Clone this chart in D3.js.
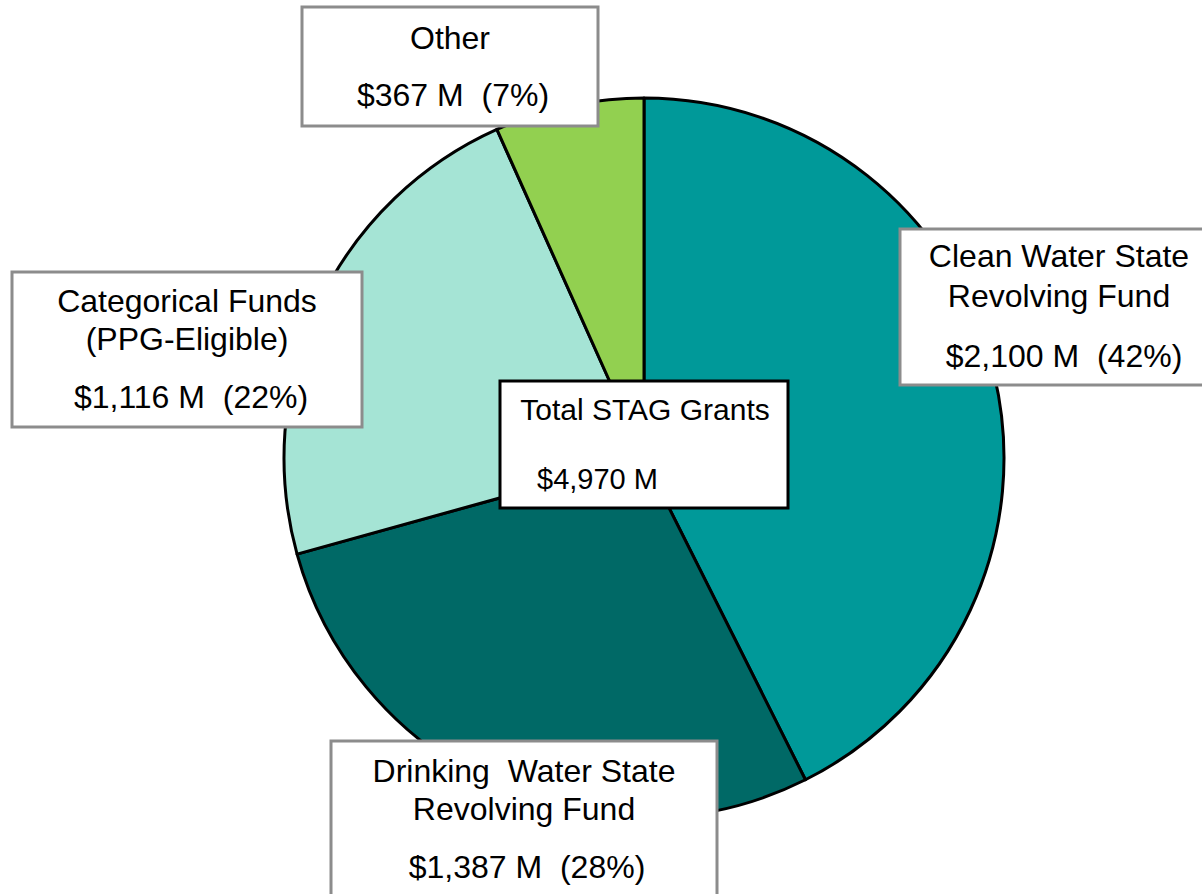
<!DOCTYPE html>
<html>
<head>
<meta charset="utf-8">
<script src="https://cdn.jsdelivr.net/npm/d3@7"></script>
<style>
  body { margin: 0; background: #fff; }
  svg { display: block; font-family: "Liberation Sans", Arial, sans-serif; }
</style>
</head>
<body>
<svg></svg>
<script>
var width = 1202;
var height = 894;

// data
var categories = ["Clean Water State Revolving Fund", "Drinking Water State Revolving Fund",
                  "Categorical Funds (PPG-Eligible)", "Other"];
var amounts = [2100, 1387, 1116, 367]; // $ millions, as printed in the labels
var percents = [42, 28, 22, 7];        // as printed
// slice shares as actually drawn in the picture (Other slice is drawn a bit smaller than 7.4%)
var sliceShares = [42.6, 28.1, 22.6, 6.7];
var labelLines = [
    ["Clean Water State", "Revolving Fund"],
    ["Drinking  Water State", "Revolving Fund"],
    ["Categorical Funds", "(PPG-Eligible)"],
    ["Other"]
];
var colors = ["#009999", "#006966", "#a5e4d5", "#92d050"];
var totalTitle = "Total STAG Grants";

var total = d3.sum(amounts);
var fmt = d3.format(",");

// label boxes (layout only)
var boxes = [
    {x: 900, y: 229, w: 318, h: 156, cx: 1059, base: 267, gap: 40, valGap: 60, valDx: 5},
    {x: 331, y: 741, w: 386, h: 170, cx: 524, base: 782, gap: 38, valGap: 58, valDx: 3},
    {x: 12, y: 272, w: 350, h: 155, cx: 187, base: 312, gap: 38, valGap: 58, valDx: 4},
    {x: 302, y: 7, w: 296, h: 119, cx: 450, base: 49, gap: 0, valGap: 57, valDx: 3}
];

var svg = d3.select('svg')
    .attr('width', width)
    .attr('height', height);

var colorScale = d3.scaleOrdinal()
    .domain(categories)
    .range(colors);

var cx = 644, cy = 458, radius = 360;

var arcs = d3.pie()
    .sort(null)
    .value(d => d)
    (sliceShares);

var path = d3.arc()
    .outerRadius(radius)
    .innerRadius(0);

svg.append('g')
    .attr('transform', `translate(${cx}, ${cy})`)
    .selectAll('.arc')
    .data(arcs)
    .enter()
    .append('path')
        .classed('arc', true)
        .attr('fill', (d, i) => colorScale(categories[i]))
        .attr('stroke', '#000')
        .attr('stroke-width', 3)
        .attr('stroke-linejoin', 'round')
        .attr('d', path);

// callout boxes
var labels = svg.selectAll('.label')
    .data(categories)
    .enter()
    .append('g')
    .classed('label', true);

labels.append('rect')
    .attr('x', (d, i) => boxes[i].x)
    .attr('y', (d, i) => boxes[i].y)
    .attr('width', (d, i) => boxes[i].w)
    .attr('height', (d, i) => boxes[i].h)
    .attr('fill', '#fff')
    .attr('stroke', '#8c8c8c')
    .attr('stroke-width', 3);

labels.each(function(d, i) {
    var g = d3.select(this);
    var b = boxes[i];
    var lines = labelLines[i];
    lines.forEach(function(line, j) {
        g.append('text')
            .attr('x', b.cx)
            .attr('y', b.base + j * b.gap)
            .attr('text-anchor', 'middle')
            .attr('font-size', 32)
            .attr('fill', '#000')
            .style('white-space', 'pre')
            .text(line);
    });
    g.append('text')
        .attr('x', b.cx + b.valDx)
        .attr('y', b.base + (lines.length - 1) * b.gap + b.valGap)
        .attr('text-anchor', 'middle')
        .attr('font-size', 32)
        .attr('fill', '#000')
        .style('white-space', 'pre')
        .text('$' + fmt(amounts[i]) + ' M  (' + percents[i] + '%)');
});

// total box in the middle
var tg = svg.append('g');
tg.append('rect')
    .attr('x', 500)
    .attr('y', 381)
    .attr('width', 288)
    .attr('height', 127)
    .attr('fill', '#fff')
    .attr('stroke', '#000')
    .attr('stroke-width', 3);
tg.append('text')
    .attr('x', 645)
    .attr('y', 420)
    .attr('text-anchor', 'middle')
    .attr('font-size', 30)
    .text(totalTitle);
tg.append('text')
    .attr('x', 537)
    .attr('y', 489)
    .attr('font-size', 29)
    .text('$' + fmt(total) + ' M');
</script>
</body>
</html>
